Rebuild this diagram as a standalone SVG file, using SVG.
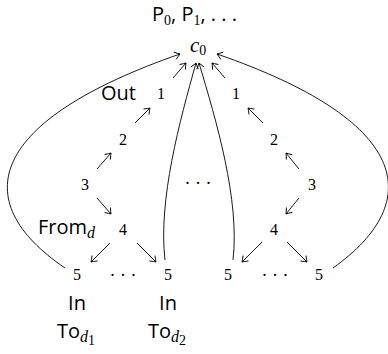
<svg xmlns="http://www.w3.org/2000/svg" width="388" height="354" viewBox="0 0 388 354">
<style>
.sans{font-family:"Open Sans","Noto Sans","Liberation Sans",sans-serif;font-size:20px;fill:#000}
.num{font-family:"Liberation Serif","DejaVu Serif",serif;font-size:16px;fill:#000;text-anchor:middle}
.dots{font-family:"Liberation Serif","DejaVu Serif",serif;font-size:18px;fill:#000;text-anchor:middle}
.it{font-family:"Liberation Serif","DejaVu Serif",serif;font-style:italic}
.sub{font-family:"Liberation Serif","DejaVu Serif",serif;font-size:14px}
.c{fill:none;stroke:#000;stroke-width:0.9}
</style>
<defs>
<marker id="ah" markerUnits="userSpaceOnUse" markerWidth="12" markerHeight="12" viewBox="-7 -6 8 12" refX="0" refY="0" orient="auto" overflow="visible">
<path d="M-5,-3.6 Q-1.6,-0.9 0,0 Q-1.6,0.9 -5,3.6" fill="none" stroke="#000" stroke-width="0.9" stroke-linecap="round"/>
</marker>
</defs>
<rect width="388" height="354" fill="#fff"/>
<g id="title"><text class="sans" x="152" y="21" font-size="21">P<tspan class="sub" dy="4">0</tspan><tspan dy="-4">, P</tspan><tspan class="sub" dy="4">1</tspan><tspan dy="-4">, . . .</tspan></text></g>
<g id="c0"><text x="190" y="52" class="it" font-size="21">c<tspan class="sub" font-style="normal" dy="3">0</tspan></text></g>
<g id="out"><text class="sans" x="101" y="100">Out</text></g>
<g id="L1"><text class="num" x="161" y="99">1</text></g>
<g id="R1"><text class="num" x="236" y="99">1</text></g>
<g id="L2"><text class="num" x="123" y="145">2</text></g>
<g id="R2"><text class="num" x="274" y="145">2</text></g>
<g id="L3"><text class="num" x="85" y="190">3</text></g>
<g id="R3"><text class="num" x="312" y="190">3</text></g>
<g id="from"><text class="sans" x="38" y="234">From<tspan class="it" font-size="16" dy="4">d</tspan></text></g>
<g id="L4"><text class="num" x="123" y="235">4</text></g>
<g id="R4"><text class="num" x="274" y="235">4</text></g>
<g id="L5a"><text class="num" x="77" y="280">5</text></g>
<g id="L5b"><text class="num" x="168" y="280">5</text></g>
<g id="R5a"><text class="num" x="228" y="280">5</text></g>
<g id="R5b"><text class="num" x="319" y="280">5</text></g>
<g id="dotsL"><text class="dots" x="123" y="281">· · ·</text></g>
<g id="dotsR"><text class="dots" x="275" y="281">· · ·</text></g>
<g id="dotsM"><text class="dots" x="198" y="189">· · ·</text></g>
<g id="in1"><text class="sans" x="77" y="310" text-anchor="middle">In</text></g>
<g id="in2"><text class="sans" x="168" y="310" text-anchor="middle">In</text></g>
<g id="to1"><text class="sans" x="57" y="338">To<tspan class="it" font-size="16" dy="4">d</tspan><tspan class="sub" font-size="11" dy="3">1</tspan></text></g>
<g id="to2"><text class="sans" x="148" y="338">To<tspan class="it" font-size="16" dy="4">d</tspan><tspan class="sub" font-size="11" dy="3">2</tspan></text></g>
<g id="connectors" class="c">
<path class="c" d="M173,78 L186,63" marker-end="url(#ah)"/>
<path class="c" d="M225,78 L212,63" marker-end="url(#ah)"/>
<path class="c" d="M135,123 L150,108" marker-end="url(#ah)"/>
<path class="c" d="M263,123 L248,108" marker-end="url(#ah)"/>
<path class="c" d="M97,169 L111,153" marker-end="url(#ah)"/>
<path class="c" d="M299,169 L286,153" marker-end="url(#ah)"/>
<path class="c" d="M97,198 L111,214" marker-end="url(#ah)"/>
<path class="c" d="M299,198 L286,214" marker-end="url(#ah)"/>
<path class="c" d="M110,243 L91,262" marker-end="url(#ah)"/>
<path class="c" d="M137,243 L156,262" marker-end="url(#ah)"/>
<path class="c" d="M262,242 L242,262" marker-end="url(#ah)"/>
<path class="c" d="M287,242 L307,262" marker-end="url(#ah)"/>
<path class="c" d="M65,268 C-35,200 -10,120 180,54" marker-end="url(#ah)"/>
<path class="c" d="M165,260 C158,200 180,120 196,63" marker-end="url(#ah)"/>
<path class="c" d="M233,260 C240,200 216,120 199,63" marker-end="url(#ah)"/>
<path class="c" d="M333,268 C428,200 408,120 217,54" marker-end="url(#ah)"/>
</g>
</svg>
